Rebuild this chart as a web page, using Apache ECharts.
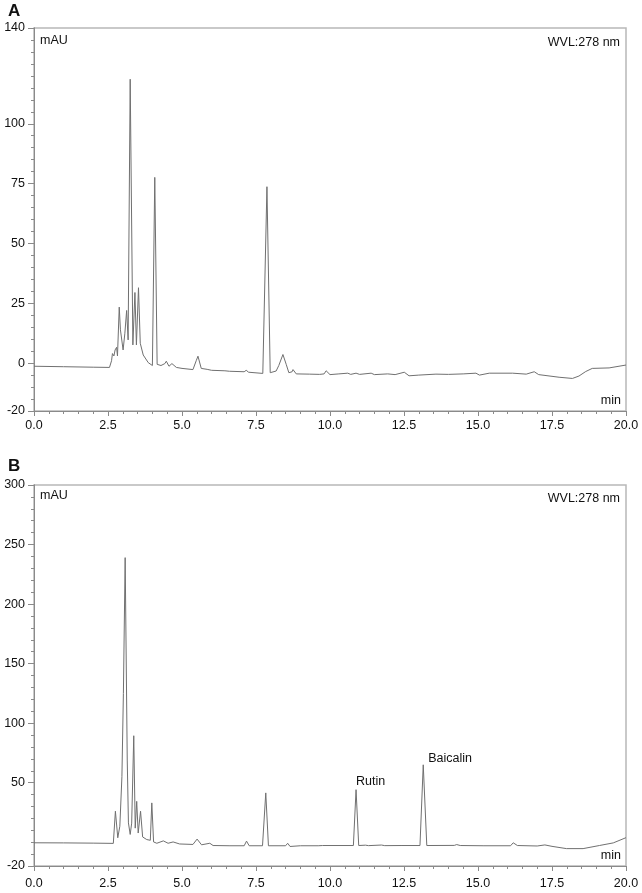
<!DOCTYPE html>
<html>
<head>
<meta charset="utf-8">
<script src="https://cdn.jsdelivr.net/npm/echarts@6/dist/echarts.min.js"></script>
<style>
  html, body { margin: 0; padding: 0; background: #fff; }
  #chart { width: 642px; height: 893px; }
</style>
</head>
<body>
<div id="chart"></div>
<script>
// chromatogram A (retention time in min, absorbance in mAU)
const timeA = [0.0, 1.0, 2.0, 2.55, 2.62, 2.65, 2.70, 2.74, 2.79, 2.82, 2.88, 2.92, 2.96, 3.01, 3.07, 3.13, 3.18, 3.25, 3.34, 3.41,
  3.46, 3.53, 3.59, 3.69, 3.86, 4.0, 4.08, 4.16, 4.29, 4.42, 4.47, 4.56, 4.66, 4.70, 4.81, 5.0, 5.37, 5.48, 5.54, 5.65,
  5.85, 5.9, 6.0, 6.45, 6.5, 6.6, 7.1, 7.17, 7.25, 7.73, 7.87, 7.98, 8.18, 8.27, 8.41, 8.52, 8.61, 8.72, 8.75, 8.86,
  9.3, 9.65, 9.8, 9.87, 10.0, 10.3, 10.6, 10.7, 10.88, 11.0, 11.39, 11.5, 11.95, 12.2, 12.51, 12.67, 13.0, 13.58, 14.0, 14.5,
  14.93, 15.05, 15.38, 16.17, 16.63, 16.9, 17.05, 17.74, 18.19, 18.41, 18.64, 18.86, 19.43, 20.0];
const signalA = [-1.3, -1.5, -1.7, -1.8, 1.0, 4.0, 3.0, 5.5, 6.6, 3.0, 23.4, 13.9, 14.0, 5.5, 12.5, 22.0, 9.7, 118.6, 7.6, 29.5,
  7.6, 31.5, 8.3, 3.4, 0.2, -1.0, 77.6, -0.5, -1.0, -0.2, 0.8, -1.3, -0.2, 0.5, -1.8, -2.2, -2.7, 1.0, 2.9, -2.2,
  -2.6, -2.2, -3.0, -3.2, -2.8, -3.4, -3.6, -3.0, -3.8, -4.3, 73.7, -4.0, -3.3, -1.0, 3.6, -0.5, -4.0, -3.6, -2.7, -4.5,
  -4.6, -4.7, -4.5, -3.2, -4.8, -4.5, -4.2, -4.7, -4.2, -4.7, -4.2, -4.8, -4.5, -4.8, -3.8, -5.3, -5.0, -4.6, -4.7, -4.5,
  -4.2, -5.0, -4.2, -4.2, -4.6, -3.6, -4.8, -5.9, -6.4, -5.4, -3.5, -2.2, -2.0, -0.8];

// chromatogram B
const timeB = [0.0, 1.0, 2.0, 2.68, 2.75, 2.83, 2.9, 2.97, 3.02, 3.08, 3.15, 3.19, 3.25, 3.3, 3.37, 3.42, 3.47, 3.52, 3.6, 3.67,
  3.81, 3.93, 3.98, 4.04, 4.15, 4.37, 4.53, 4.7, 4.92, 5.37, 5.51, 5.66, 5.94, 6.05, 6.62, 7.1, 7.18, 7.27, 7.72, 7.83,
  7.92, 8.5, 8.57, 8.65, 9.0, 9.6, 9.66, 9.75, 10.79, 10.88, 10.97, 11.2, 11.3, 11.74, 11.85, 12.4, 13.04, 13.15, 13.27, 14.2,
  14.28, 14.4, 15.2, 16.1, 16.19, 16.33, 17.0, 17.26, 17.5, 17.99, 18.55, 19.1, 19.57, 20.0];
const signalB = [-0.5, -0.6, -0.8, -1.0, 26, 3.7, 13.4, 55, 125, 239, 69, 16.2, 6.5, 16, 89.4, 11.8, 34.3, 7.7, 26, 4.4,
  2.2, 1.6, 33, 0.2, -0.9, 1.1, -0.9, 0.2, -1.5, -1.9, 2.6, -2.2, -0.9, -2.8, -3.0, -3.0, 0.9, -3.0, -3.0, 41.4,
  -3.0, -3.0, -0.9, -3.6, -3.0, -3.0, -2.2, -2.8, -2.8, 44.1, -2.8, -2.5, -2.9, -2.4, -2.9, -2.8, -2.8, 65, -2.8, -2.7,
  -2.0, -2.8, -3.0, -3.0, -0.5, -2.8, -3.2, -2.3, -3.5, -5.4, -5.4, -2.8, -0.6, 3.8];

// y tick labels shown on each panel
const yLabelsA = [-20, 0, 25, 50, 75, 100, 140];
const yLabelsB = [-20, 50, 100, 150, 200, 250, 300];

// named peaks in B
const peakNames = ['Rutin', 'Baicalin'];
const peakTimes = [10.88, 13.15];
const peakHeights = [44.1, 65];

const chart = echarts.init(document.getElementById('chart'));

const font = 'Liberation Sans, Arial, sans-serif';
const lineGray = '#707070';
const axisGray = '#8a8a8a';

function pairs(ts, vs) {
  return ts.map((t, i) => [t, vs[i]]);
}

function xAxisFor(gridIndex, margin) {
  return {
    type: 'value',
    gridIndex,
    min: 0,
    max: 20,
    interval: 2.5,
    axisLine: { onZero: false, lineStyle: { color: axisGray, width: 1 } },
    axisTick: { length: 5, lineStyle: { color: axisGray } },
    minorTick: { show: true, splitNumber: 5, length: 3, lineStyle: { color: axisGray } },
    axisLabel: {
      color: '#111',
      fontFamily: font,
      fontSize: 12.5,
      margin,
      formatter: (v) => v.toFixed(1),
    },
    splitLine: { show: false },
  };
}

// main axis: labels + long ticks; second axis: short ticks at every step
function yAxesFor(gridIndex, min, max, step, labels) {
  return [
    {
      type: 'value',
      gridIndex,
      min,
      max,
      interval: step,
      axisLine: { show: true, lineStyle: { color: axisGray, width: 1 } },
      axisTick: { show: true, length: 6, customValues: labels, lineStyle: { color: axisGray } },
      axisLabel: {
        color: '#111',
        fontFamily: font,
        fontSize: 12.5,
        margin: 9,
        customValues: labels,
      },
      splitLine: { show: false },
    },
    {
      type: 'value',
      gridIndex,
      min,
      max,
      interval: step,
      position: 'left',
      offset: 0,
      axisLine: { show: true, lineStyle: { color: axisGray, width: 1 } },
      axisTick: { show: true, length: 3, lineStyle: { color: axisGray } },
      axisLabel: { show: false },
      splitLine: { show: false },
    },
  ];
}

const yAxes = [].concat(
  yAxesFor(0, -20, 140, 5, yLabelsA),
  yAxesFor(1, -20, 300, 10, yLabelsB)
);

const option = {
  animation: false,
  backgroundColor: '#fff',
  grid: [
    { left: 34, top: 28, width: 592, height: 383, show: true, borderColor: '#b8b8b8', borderWidth: 1.5, backgroundColor: 'transparent' },
    { left: 34, top: 485, width: 592, height: 381, show: true, borderColor: '#b8b8b8', borderWidth: 1.5, backgroundColor: 'transparent' },
  ],
  xAxis: [xAxisFor(0, 8), xAxisFor(1, 11)],
  yAxis: yAxes,
  series: [
    {
      type: 'line',
      xAxisIndex: 0,
      yAxisIndex: 0,
      data: pairs(timeA, signalA),
      showSymbol: false,
      lineStyle: { color: lineGray, width: 1 },
      silent: true,
    },
    {
      type: 'line',
      xAxisIndex: 1,
      yAxisIndex: 2,
      data: pairs(timeB, signalB),
      showSymbol: false,
      lineStyle: { color: lineGray, width: 1 },
      silent: true,
      markPoint: {
        symbol: 'circle',
        symbolSize: 0,
        silent: true,
        data: peakNames.map((name, i) => ({
          name,
          coord: [peakTimes[i], peakHeights[i]],
          label: {
            show: true,
            formatter: name,
            position: 'right',
            distance: 0,
            offset: i === 0 ? [0, -8] : [5, -6],
            color: '#111',
            fontFamily: font,
            fontSize: 12.5,
          },
        })),
      },
    },
  ],
  graphic: [
    { type: 'text', left: 8, top: 3, style: { text: 'A', font: 'bold 17px ' + font, fill: '#111' } },
    { type: 'text', left: 8, top: 458, style: { text: 'B', font: 'bold 17px ' + font, fill: '#111' } },
    { type: 'text', left: 40, top: 34, style: { text: 'mAU', font: '12.5px ' + font, fill: '#111' } },
    { type: 'text', left: 40, top: 489, style: { text: 'mAU', font: '12.5px ' + font, fill: '#111' } },
    { type: 'text', right: 22, top: 36, style: { text: 'WVL:278 nm', font: '12.5px ' + font, fill: '#111' } },
    { type: 'text', right: 22, top: 492, style: { text: 'WVL:278 nm', font: '12.5px ' + font, fill: '#111' } },
    { type: 'text', right: 21, top: 394, style: { text: 'min', font: '12.5px ' + font, fill: '#111' } },
    { type: 'text', right: 21, top: 849, style: { text: 'min', font: '12.5px ' + font, fill: '#111' } },
  ],
};

chart.setOption(option);
</script>
</body>
</html>
